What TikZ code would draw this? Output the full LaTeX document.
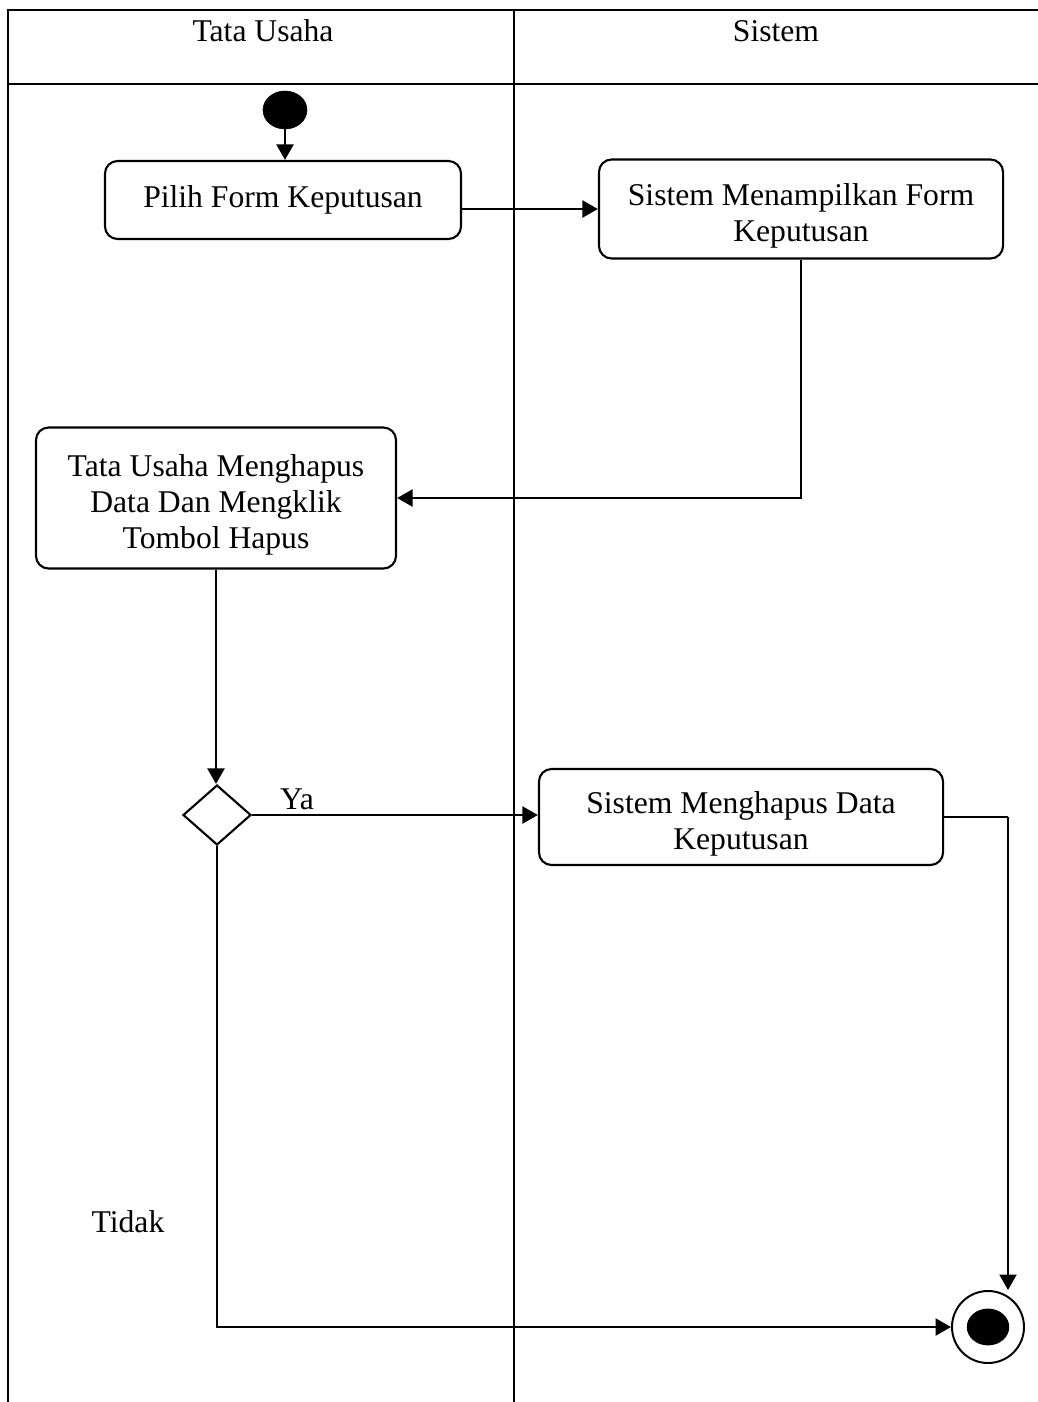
\documentclass[tikz,border=0pt]{standalone}
\usepackage{fontspec}
\setmainfont{Liberation Serif}
\usetikzlibrary{positioning,shapes.geometric,arrows.meta}
\newcommand{\turun}{\rule{0pt}{25pt}}
\tikzset{act node/.style={rectangle,rounded corners=9pt,draw,line width=1.5pt,align=center,inner sep=2pt},
  start node/.style={ellipse,fill=black,draw,minimum width=1.1cm,minimum height=0.95cm,inner sep=0pt},
  end node/.style={circle,draw,line width=1.4pt,minimum size=1.8cm,inner sep=0pt},
  dec node/.style={diamond,draw,line width=1.5pt,minimum width=1.7cm,minimum height=1.5cm,inner sep=0pt},
  panah/.style={-{Triangle[length=11pt,width=12pt]},line width=1.8pt},
  garis/.style={line width=2pt},}

\begin{document}
\begin{tikzpicture}[x=0.025cm,y=-0.025cm,font=\fontsize{22.5}{25.6}\selectfont]
    \useasboundingbox (0,0) rectangle (1038,1402);
    % swimlane
    \draw[garis] (8,1402) -- (8,10) -- (1038,10);
    \draw[garis] (8,84) -- (1038,84);
    \draw[garis] (514,10) -- (514,1402);
    \node (tu) at (263,31) {Tata Usaha};
    \node (sis) at (776,31) {Sistem};

    \node[start node] (mulai) at (285,110) {};
    \node[act node,minimum width=8.9cm,minimum height=1.95cm] (pilih) at (283,200) {Pilih Form Keputusan};
    \node[act node,minimum width=10.1cm,minimum height=2.475cm] (tampil) at (801,209) {\turun Sistem Menampilkan Form\\Keputusan};
    \node[act node,minimum width=9cm,minimum height=3.525cm] (hapus) at (216,498) {\turun Tata Usaha Menghapus\\Data Dan Mengklik\\Tombol Hapus};
    \node[dec node] (cek) at (217,815) {};
    \node[act node,minimum width=10.1cm,minimum height=2.4cm] (hapusdata) at (741,817) {\turun Sistem Menghapus Data\\Keputusan};
    \node[end node] (selesai) at (988,1327) {};
    \fill (selesai.center) ellipse [x radius=0.53cm,y radius=0.46cm];
    \coordinate (belok) at (1008,817);

    \node (ya) at (297,799) {Ya};
    \node (tidak) at (128,1222) {Tidak};

    \draw[panah] (mulai) -- (mulai |- pilih.north);
    \draw[panah] (tampil.west -| pilih.east) -- (tampil.west);
    \draw[panah] (tampil.south) |- (hapus.east);
    \draw[panah] (hapus.south) -- (hapus.south |- cek.north);
    \draw[panah] (cek.east) -- (cek.east -| hapusdata.west);
    \draw[garis] (hapusdata.east) -- (belok);
    \draw[panah] (belok) -- (belok |- selesai.north);
    \draw[panah] (cek.south) |- (selesai.west);
\end{tikzpicture}
\end{document}
